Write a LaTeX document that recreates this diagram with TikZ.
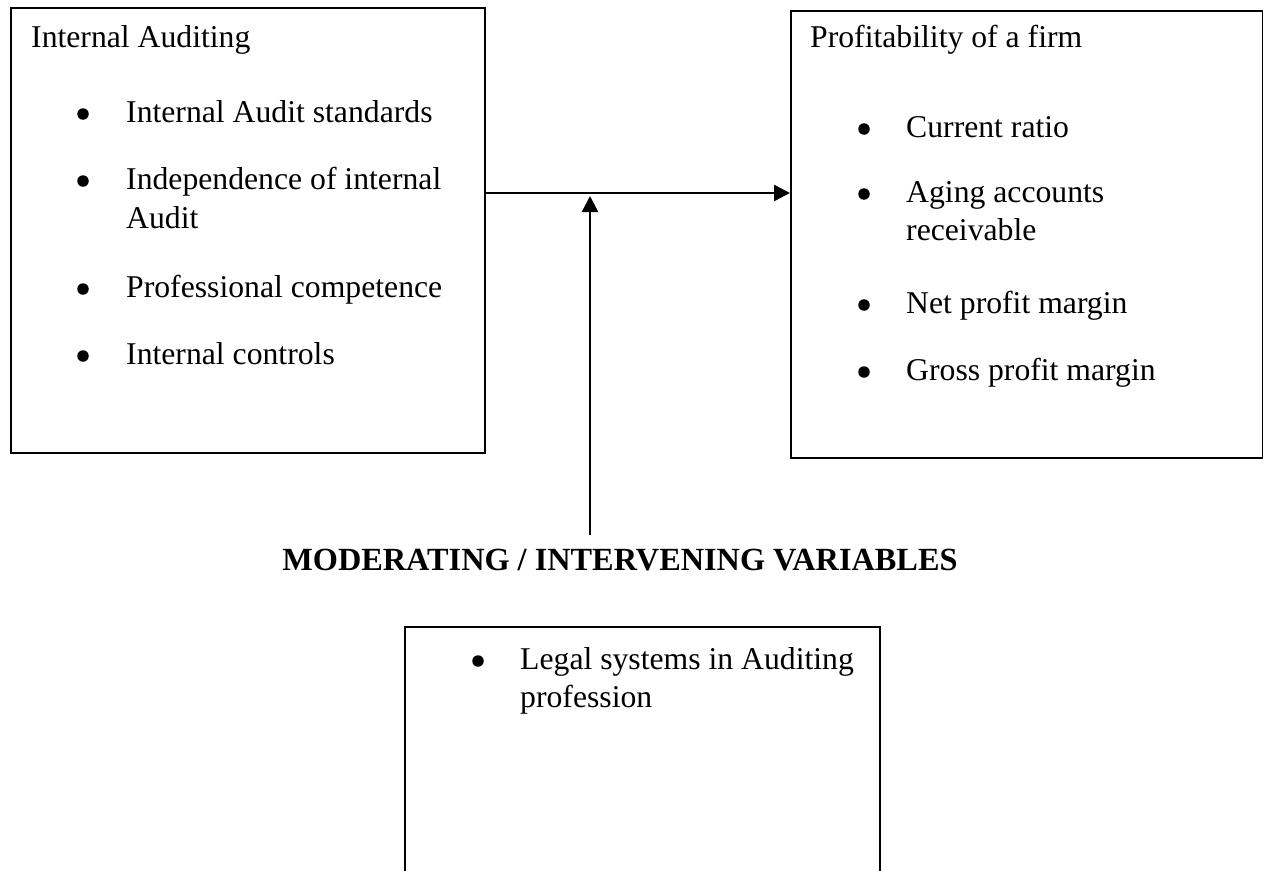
\documentclass[tikz,border=0pt]{standalone}
\usepackage{fontspec}
\setmainfont{Liberation Serif}
\usetikzlibrary{arrows.meta}
\begin{document}
\begin{tikzpicture}[x=1pt,y=-1pt,
  boxst/.style={draw=black,line width=1.8pt,inner sep=0pt,anchor=north west},
  txt/.style={anchor=base west,inner sep=0pt,font=\fontsize{31.7}{38}\selectfont},
  bul/.style={circle,fill=black,inner sep=0pt,minimum size=11.5pt},
  head/.style={anchor=base,inner sep=0pt,font=\fontsize{32.3}{38}\selectfont\bfseries},
  arr/.style={line width=2.4pt,-{Triangle[length=16pt,width=16pt]}}]
\useasboundingbox (0,0) rectangle (1263,870);
\clip (0,0) rectangle (1263,870);
% boxes
\node[boxst,minimum width=474pt,minimum height=445pt] (b1) at (10,7) {};
\node[boxst,minimum width=472pt,minimum height=447pt] (b2) at (790,10) {};
\node[boxst,minimum width=475pt,minimum height=300pt] (b3) at (404,626) {};
% box 1 text
\node[txt] (t1) at (31,47) {Internal Auditing};
\node[bul] (p1) at (83,114) {};
\node[txt] (a1) at (126,122) {Internal Audit standards};
\node[bul] (p2) at (83,181) {};
\node[txt] (a2) at (126,189) {Independence of internal};
\node[txt] (a2b) at (126,228) {Audit};
\node[bul] (p3) at (83,289) {};
\node[txt] (a3) at (126,297) {Professional competence};
\node[bul] (p4) at (83,356) {};
\node[txt] (a4) at (126,364) {Internal controls};
% box 2 text
\node[txt] (t2) at (810,47) {Profitability of a firm};
\node[bul] (q1) at (864,129) {};
\node[txt] (c1) at (906,137) {Current ratio};
\node[bul] (q2) at (864,194) {};
\node[txt] (c2) at (906,202) {Aging accounts};
\node[txt] (c2b) at (906,240) {receivable};
\node[bul] (q3) at (864,305) {};
\node[txt] (c3) at (906,313) {Net profit margin};
\node[bul] (q4) at (864,372) {};
\node[txt] (c4) at (906,380) {Gross profit margin};
% box 3 text
\node[bul] (r1) at (478,661) {};
\node[txt] (l1) at (520,669) {Legal systems in Auditing};
\node[txt] (l1b) at (520,707) {profession};
% heading
\node[head] (mod) at (620,570) {MODERATING / INTERVENING VARIABLES};
% connectors
\coordinate (hy) at (0,193);
\coordinate (vb) at (590,535);
\coordinate (vt) at (590,196);
\draw[arr] (b1.north east |- hy) -- (b2.north west |- hy);
\draw[arr] (vb) -- (vt);
\end{tikzpicture}
\end{document}
